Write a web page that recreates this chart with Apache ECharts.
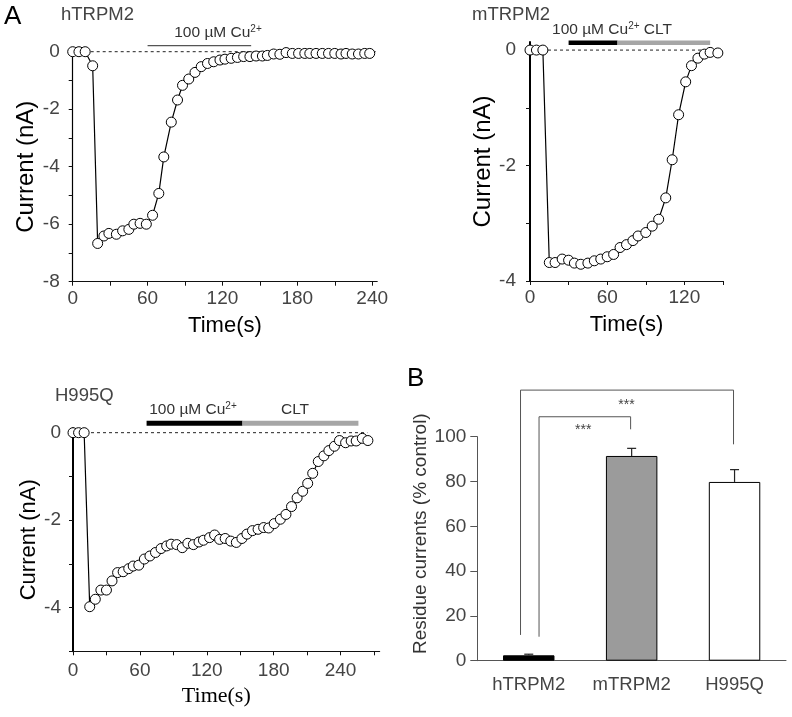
<!DOCTYPE html>
<html>
<head>
<meta charset="utf-8">
<script src="https://cdn.jsdelivr.net/npm/echarts@6/dist/echarts.min.js"></script>
<style>html,body{margin:0;padding:0;background:#fff}#c{width:792px;height:717px}</style>
</head>
<body>
<div id="c"></div>
<script>
// ---------- Panel A: hTRPM2 ----------
const hT_time = [0,5,10,16,20,25,29,35,40,45,49,54,59,64,69,73,79,84,88,93,98,103,108,113,118,122,127,132,137,142,147,152,156,161,166,171,176,181,186,190,195,200,205,210,215,219,224,229,234,238];
const hT_current = [0,0,0,-0.49,-6.67,-6.41,-6.32,-6.35,-6.23,-6.18,-6.0,-5.97,-6.0,-5.69,-4.93,-3.66,-2.45,-1.68,-1.17,-0.95,-0.72,-0.52,-0.41,-0.35,-0.29,-0.26,-0.23,-0.2,-0.17,-0.17,-0.15,-0.15,-0.13,-0.08,-0.09,-0.03,-0.06,-0.06,-0.06,-0.06,-0.06,-0.06,-0.06,-0.06,-0.08,-0.06,-0.08,-0.08,-0.06,-0.06];
const hT_xTicks = [0,30,60,90,120,150,180,210,240];
const hT_xLabels = [0,60,120,180,240];
const hT_yTicks = [0,-1,-2,-3,-4,-5,-6,-7,-8];
const hT_yLabels = [0,-2,-4,-6,-8];
const hT_cuBar = [60,143];       // 100 µM Cu2+ application (s)
const hT_baseline = [0,244];

// ---------- Panel A: mTRPM2 ----------
const mT_time = [0,5,10,15,19.5,25,30,34.5,39.5,45,50,55,60,65,70,75,80,84,90,95,100,105.5,110.5,115.5,121,125.5,130.5,135.5,140,146];
const mT_current = [0,0,0,-3.68,-3.68,-3.62,-3.64,-3.69,-3.71,-3.69,-3.65,-3.62,-3.58,-3.54,-3.42,-3.37,-3.30,-3.22,-3.16,-3.05,-2.93,-2.56,-1.90,-1.12,-0.55,-0.27,-0.14,-0.07,-0.04,-0.05];
const mT_xTicks = [0,30,60,90,120,150];
const mT_xLabels = [0,60,120];
const mT_yTicks = [0,-1,-2,-3,-4];
const mT_yLabels = [0,-2,-4];
const mT_cuBar = [30,68];
const mT_cltBar = [68,140];
const mT_baseline = [0,142];

// ---------- Panel A: H995Q ----------
const hq_time = [0,5,10,15,20,25,30,35,40,45,50,54,59,64,69,74,79,84,88,93,98,103,108,113,117,122.5,127,131.5,136.5,141.5,146.5,151.5,156,161,166,171,175.5,180.5,186,191,196,201,206,210.5,215,220,225,229.5,234.5,239,244.5,249.5,254,259.5,264.5];
const hq_current = [0,0,0,-3.98,-3.81,-3.60,-3.60,-3.39,-3.20,-3.18,-3.11,-3.05,-3.03,-2.89,-2.82,-2.74,-2.65,-2.59,-2.55,-2.56,-2.63,-2.53,-2.56,-2.50,-2.46,-2.40,-2.34,-2.44,-2.42,-2.48,-2.51,-2.42,-2.32,-2.24,-2.21,-2.17,-2.18,-2.08,-1.98,-1.87,-1.69,-1.49,-1.34,-1.16,-0.93,-0.66,-0.53,-0.41,-0.31,-0.18,-0.23,-0.19,-0.19,-0.13,-0.18];
const hq_xTicks = [0,30,60,90,120,150,180,210,240,270];
const hq_xLabels = [0,60,120,180,240];
const hq_yTicks = [0,-1,-2,-3,-4,-5];
const hq_yLabels = [0,-2,-4];
const hq_cuBar = [66,152];
const hq_cltBar = [152,256];
const hq_baseline = [0,264];

// ---------- Panel B ----------
const groups = ['hTRPM2','mTRPM2','H995Q'];
const residue = [2.4, 91.4, 79.8];
const residueErr = [0.5, 3.4, 5.5];
const barColors = ['#000000','#9b9b9b','#ffffff'];
const bYTicks = [0,20,40,60,80,100];
// significance brackets (category index + offset, values in % control)
const brLeftCat = [0, 0];
const brLeftOff = [-0.08, 0.1];
const brRightCat = [2, 1];
const brRightOff = [-0.01, -0.01];
const brTop = [120.8, 108.9];
const brLeftBottom = [11.5, 10.7];
const brRightBottom = [96.6, 103.3];
const starLabels = ['***','***'];
const starCatOff = [0.53, 0.95];
const starY = [103.0, 114.2];

const FONT = '"Liberation Sans", Arial, sans-serif';
const SERIF = '"Liberation Serif", "Times New Roman", serif';
const pairs = (t, v) => t.map((x, i) => [x, v[i]]);

function xAxisFor(gi, max, ticks, labels, gap, margin, nameStyle) {
  return {
    gridIndex: gi, type: 'value', min: 0, max: max,
    axisLine: { show: true, onZero: false, lineStyle: { color: '#111', width: 1.2 } },
    axisTick: { show: true, customValues: ticks, length: 4, lineStyle: { color: '#111' } },
    axisLabel: { customValues: labels, fontSize: 19, color: '#444', margin: margin, fontFamily: FONT },
    splitLine: { show: false },
    name: 'Time(s)', nameLocation: 'middle', nameGap: gap,
    nameTextStyle: Object.assign({ fontSize: 22, color: '#000', fontFamily: FONT }, nameStyle || {})
  };
}
function yAxisFor(gi, min, max, ticks, labels, gap, margin, lw, nameSize) {
  return {
    gridIndex: gi, type: 'value', min: min, max: max,
    axisLine: { show: true, onZero: false, lineStyle: { color: '#000', width: lw } },
    axisTick: { show: true, customValues: ticks, length: 4, lineStyle: { color: '#111' } },
    axisLabel: { customValues: labels, fontSize: 19, color: '#444', margin: margin, fontFamily: FONT },
    splitLine: { show: false },
    name: 'Current (nA)', nameLocation: 'middle', nameGap: gap, nameRotate: 90,
    nameTextStyle: { fontSize: nameSize, color: '#000', fontFamily: FONT }
  };
}
function traceSeries(xi, t, v) {
  return {
    type: 'line', xAxisIndex: xi, yAxisIndex: xi, data: pairs(t, v),
    symbol: 'circle', symbolSize: 10, clip: false, z: 5,
    itemStyle: { color: '#fff', borderColor: '#000', borderWidth: 1 },
    lineStyle: { color: '#000', width: 1.2 }, silent: true
  };
}
function segSeries(xi, range, level, color, width, dashed) {
  return {
    type: 'line', xAxisIndex: xi, yAxisIndex: xi,
    data: [[range[0], level], [range[1], level]],
    symbol: 'none', clip: false, z: dashed ? 2 : 3, silent: true,
    lineStyle: { color: color, width: width, type: dashed ? [3, 3] : 'solid' }
  };
}

const chart = echarts.init(document.getElementById('c'), null, { renderer: 'canvas' });

const option = {
  animation: false,
  backgroundColor: '#fff',
  textStyle: { fontFamily: FONT },
  grid: [
    { left: 72.7, top: 51.7, width: 304.5, height: 230, outerBoundsMode: 'none', containLabel: false },
    { left: 530, top: 42, width: 193, height: 239, outerBoundsMode: 'none', containLabel: false },
    { left: 73, top: 428.3, width: 306.6, height: 223, outerBoundsMode: 'none', containLabel: false },
    { left: 477.3, top: 436.7, width: 308.7, height: 224, outerBoundsMode: 'none', containLabel: false }
  ],
  xAxis: [
    xAxisFor(0, 244, hT_xTicks, hT_xLabels, 33, 8),
    xAxisFor(1, 150, mT_xTicks, mT_xLabels, 33, 7),
    xAxisFor(2, 275, hq_xTicks, hq_xLabels, 34, 10, { fontFamily: SERIF, fontSize: 22, padding: [0, 20, 0, 0] }),
    {
      gridIndex: 3, type: 'category', data: groups,
      axisLine: { show: true, lineStyle: { color: '#555', width: 1 } },
      axisTick: { show: false },
      axisLabel: { fontSize: 18.5, color: '#444', margin: 15, fontFamily: FONT }
    }
  ],
  yAxis: [
    yAxisFor(0, -8, 0, hT_yTicks, hT_yLabels, 34, 13, 1.2, 24),
    yAxisFor(1, -4, 0.14, mT_yTicks, mT_yLabels, 31, 14, 2, 24),
    yAxisFor(2, -5, 0.1, hq_yTicks, hq_yLabels, 33, 12, 2, 22),
    {
      gridIndex: 3, type: 'value', min: 0, max: 100,
      axisLine: { show: true, lineStyle: { color: '#555', width: 1 } },
      axisTick: { show: true, customValues: bYTicks, length: 7, lineStyle: { color: '#555' } },
      axisLabel: { customValues: bYTicks, fontSize: 19, color: '#444', margin: 11, fontFamily: FONT },
      splitLine: { show: false },
      name: 'Residue currents (% control)', nameLocation: 'middle', nameGap: 42, nameRotate: 90,
      nameTextStyle: { fontSize: 19, color: '#333', fontFamily: FONT, padding: [0, 0, 0, 30] }
    }
  ],
  series: [
    // hTRPM2
    segSeries(0, hT_baseline, 0, '#222', 1, true),
    segSeries(0, hT_cuBar, 0.21, '#555', 1.2, false),
    traceSeries(0, hT_time, hT_current),
    // mTRPM2
    segSeries(1, mT_baseline, 0, '#222', 1, true),
    segSeries(1, mT_cuBar, 0.127, '#000', 4.5, false),
    segSeries(1, mT_cltBar, 0.127, '#a6a6a6', 4.5, false),
    traceSeries(1, mT_time, mT_current),
    // H995Q
    segSeries(2, hq_baseline, 0, '#222', 1, true),
    segSeries(2, hq_cuBar, 0.215, '#000', 5, false),
    segSeries(2, hq_cltBar, 0.215, '#a6a6a6', 5, false),
    traceSeries(2, hq_time, hq_current),
    // Panel B bars
    {
      type: 'bar', xAxisIndex: 3, yAxisIndex: 3, barWidth: '50%', silent: true,
      data: residue.map((v, i) => ({ value: v, itemStyle: { color: barColors[i], borderColor: '#000', borderWidth: 1 } }))
    },
    {
      type: 'custom', xAxisIndex: 3, yAxisIndex: 3, clip: false, silent: true, z: 4,
      data: residue.map((v, i) => [i, v, residueErr[i]]),
      renderItem: function (params, api) {
        const i = api.value(0), v = api.value(1), e = api.value(2);
        const p0 = api.coord([i, v]);
        const p1 = api.coord([i, v + e]);
        const style = { stroke: '#222', lineWidth: 1.2 };
        return {
          type: 'group', children: [
            { type: 'line', shape: { x1: p0[0], y1: p0[1], x2: p1[0], y2: p1[1] }, style: style },
            { type: 'line', shape: { x1: p1[0] - 4.5, y1: p1[1], x2: p1[0] + 4.5, y2: p1[1] }, style: style }
          ]
        };
      }
    },
    {
      type: 'custom', xAxisIndex: 3, yAxisIndex: 3, clip: false, silent: true, z: 4,
      data: brTop.map((v, i) => [brLeftCat[i], v]),
      renderItem: function (params, api) {
        const k = params.dataIndex;
        const w = api.size([1, 0])[0];
        const xl = api.coord([brLeftCat[k], 0])[0] + brLeftOff[k] * w;
        const xr = api.coord([brRightCat[k], 0])[0] + brRightOff[k] * w;
        const yt = api.coord([0, brTop[k]])[1];
        const yl = api.coord([0, brLeftBottom[k]])[1];
        const yr = api.coord([0, brRightBottom[k]])[1];
        const xs = api.coord([0, 0])[0] + starCatOff[k] * w;
        const ys = api.coord([0, starY[k]])[1];
        return {
          type: 'group', children: [
            { type: 'polyline', shape: { points: [[xl, yl], [xl, yt], [xr, yt], [xr, yr]] }, style: { stroke: '#555', lineWidth: 1, fill: null } },
            { type: 'text', x: xs, y: ys, style: { text: starLabels[k], font: '14px ' + FONT, fill: '#444', align: 'center', verticalAlign: 'middle' } }
          ]
        };
      }
    }
  ],
  graphic: [
    { type: 'text', left: 4, top: 4, style: { text: 'A', font: '26px ' + FONT, fill: '#000' } },
    { type: 'text', left: 61, top: 5, style: { text: 'hTRPM2', font: '18.5px ' + FONT, fill: '#444' } },
    { type: 'text', left: 472, top: 5, style: { text: 'mTRPM2', font: '18.5px ' + FONT, fill: '#444' } },
    { type: 'text', left: 55, top: 386, style: { text: 'H995Q', font: '18.5px ' + FONT, fill: '#444' } },
    { type: 'text', left: 407, top: 366, style: { text: 'B', font: '26px ' + FONT, fill: '#000' } },
    { type: 'text', x: 218, y: 33, style: { text: '100 µM Cu{s|2+}', align: 'center', verticalAlign: 'middle', font: '15.5px ' + FONT, fill: '#333', rich: { s: { fontSize: 10, verticalAlign: 'top', padding: [0, 0, 7, 0], fill: '#333' } } } },
    { type: 'text', x: 612, y: 30, style: { text: '100 µM Cu{s|2+} CLT', align: 'center', verticalAlign: 'middle', font: '15.5px ' + FONT, fill: '#333', rich: { s: { fontSize: 10, padding: [0, 0, 7, 0], fill: '#333' } } } },
    { type: 'text', x: 193, y: 410, style: { text: '100 µM Cu{s|2+}', align: 'center', verticalAlign: 'middle', font: '15.5px ' + FONT, fill: '#333', rich: { s: { fontSize: 10, padding: [0, 0, 7, 0], fill: '#333' } } } },
    { type: 'text', x: 295, y: 410, style: { text: 'CLT', align: 'center', verticalAlign: 'middle', font: '15.5px ' + FONT, fill: '#333' } }
  ]
};
chart.setOption(option);
</script>
</body>
</html>
